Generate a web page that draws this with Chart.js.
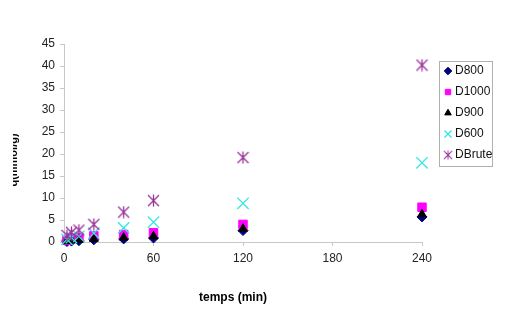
<!DOCTYPE html>
<html>
<head>
<meta charset="utf-8">
<script src="https://cdn.jsdelivr.net/npm/chart.js@4.4.1/dist/chart.umd.min.js"></script>
<style>
  html, body { margin: 0; padding: 0; background: #fff; }
  #grafica { display: block; }
</style>
</head>
<body>
<canvas id="grafica" width="506" height="313"></canvas>
<script>
// Datos
const tiempos = [2, 5, 10, 20, 40, 60, 120, 240];
const d800   = [0.1, 0.2, 0.3, 0.5, 0.7, 0.9, 2.6, 5.7];
const d1000  = [0.4, 0.8, 1.0, 1.4, 1.7, 2.1, 4.0, 7.9];
const d900   = [0.2, 0.4, 0.5, 0.7, 1.0, 1.3, 3.0, 6.3];
const d600   = [0.6, 1.0, 1.3, 2.0, 3.2, 4.5, 8.8, 18.0];
const dBrute = [1.5, 2.2, 2.7, 4.0, 6.8, 9.4, 19.2, 40.2];
const xTicks = [0, 60, 120, 180, 240];
const nombres = ['D800', 'D1000', 'D900', 'D600', 'DBrute'];

const FUENTE = "'Liberation Sans', Arial, sans-serif";

// Marcador asterisco (estilo Excel: X + barra vertical)
function asterisco(size, color) {
    const c = document.createElement('canvas');
    c.width = size; c.height = size;
    const g = c.getContext('2d');
    const m = size / 2, r = size / 2 - 1;
    g.strokeStyle = color;
    g.lineWidth = 1.3;
    g.beginPath();
    g.moveTo(m - r, m - r); g.lineTo(m + r, m + r);
    g.moveTo(m + r, m - r); g.lineTo(m - r, m + r);
    g.moveTo(m, m - r - 0.5); g.lineTo(m, m + r + 0.5);
    g.stroke();
    return c;
}

function puntos(ys) {
    return tiempos.map((t, i) => ({ x: t, y: ys[i] }));
}

const series = [
    { label: nombres[0], data: puntos(d800),   pointStyle: 'rectRot',  pointRadius: 5,   backgroundColor: '#000080', borderColor: '#000080', order: 5 },
    { label: nombres[1], data: puntos(d1000),  pointStyle: 'rect',     pointRadius: 6,   backgroundColor: '#ff00ff', borderColor: '#ff00ff', order: 4 },
    { label: nombres[2], data: puntos(d900),   pointStyle: 'triangle', pointRadius: 5,   backgroundColor: '#000000', borderColor: '#000000', order: 3 },
    { label: nombres[3], data: puntos(d600),   pointStyle: 'crossRot', pointRadius: 8,   backgroundColor: '#33e6e6', borderColor: '#33e6e6', borderWidth: 1.3, order: 2 },
    { label: nombres[4], data: puntos(dBrute), pointStyle: asterisco(13, '#993399'), pointRadius: 6.5, backgroundColor: '#993399', borderColor: '#993399', order: 1 }
];

// Plugin: titulos de ejes y leyenda con recuadro
const decorado = {
    id: 'decorado',
    afterDraw(chart) {
        const ctx = chart.ctx;
        // titulo eje Y (recortado en el borde izquierdo como en el original)
        ctx.save();
        ctx.beginPath();
        ctx.rect(13, 0, 100, 313);
        ctx.clip();
        ctx.translate(13, 160);
        ctx.rotate(-Math.PI / 2);
        ctx.font = 'bold 11px ' + FUENTE;
        ctx.fillStyle = '#000';
        ctx.textAlign = 'center';
        ctx.textBaseline = 'alphabetic';
        ctx.fillText('q(mmol/g)', 0, 4);
        ctx.restore();

        // titulo eje X
        ctx.save();
        ctx.font = 'bold 12px ' + FUENTE;
        ctx.fillStyle = '#000';
        ctx.textAlign = 'center';
        ctx.textBaseline = 'middle';
        ctx.fillText('temps (min)', 233, 298);
        ctx.restore();

        // leyenda
        ctx.save();
        ctx.strokeStyle = '#b0b0b0';
        ctx.lineWidth = 1;
        ctx.strokeRect(439.5, 61.5, 53, 105);
        ctx.font = '12px ' + FUENTE;
        ctx.textAlign = 'left';
        ctx.textBaseline = 'middle';
        chart.data.datasets.forEach((ds, i) => {
            const y = 71 + i * 21;
            const estilo = {
                pointStyle: ds.pointStyle,
                radius: ds.pointStyle === 'crossRot' ? 5 : 3.8,
                rotation: 0,
                borderWidth: ds.borderWidth || 1
            };
            ctx.fillStyle = ds.backgroundColor;
            ctx.strokeStyle = ds.borderColor;
            ctx.lineWidth = ds.borderWidth || 1;
            if (ds.pointStyle instanceof HTMLCanvasElement) {
                ctx.drawImage(ds.pointStyle, 443, y - 5, 10, 10);
            } else {
                Chart.helpers.drawPoint(ctx, estilo, 448, y);
            }
            ctx.fillStyle = '#111';
            ctx.fillText(ds.label, 455, y);
        });
        ctx.restore();
    }
};

const ctx = document.getElementById('grafica').getContext('2d');
new Chart(ctx, {
    type: 'scatter',
    data: { datasets: series },
    options: {
        responsive: false,
        animation: false,
        clip: false,
        layout: { padding: { left: 0, right: 84, top: 44, bottom: 0 } },
        plugins: {
            legend: { display: false },
            tooltip: { enabled: false }
        },
        scales: {
            x: {
                type: 'linear',
                min: 0, max: 240,
                afterBuildTicks: (scale) => { scale.ticks = xTicks.map(v => ({ value: v })); },
                afterFit: (scale) => { scale.height = 71; },
                grid: { drawOnChartArea: false, drawTicks: true, tickLength: 4, color: '#c8c8c8' },
                border: { color: '#c8c8c8' },
                ticks: { color: '#222', font: { family: FUENTE, size: 12 }, padding: 5, maxRotation: 0 }
            },
            y: {
                min: 0, max: 45,
                afterFit: (scale) => { scale.width = 64; },
                grid: { drawOnChartArea: false, drawTicks: true, tickLength: 4, color: '#c8c8c8' },
                border: { color: '#c8c8c8' },
                ticks: { stepSize: 5, color: '#222', font: { family: FUENTE, size: 12 }, padding: 5 }
            }
        }
    },
    plugins: [decorado]
});
</script>
</body>
</html>
